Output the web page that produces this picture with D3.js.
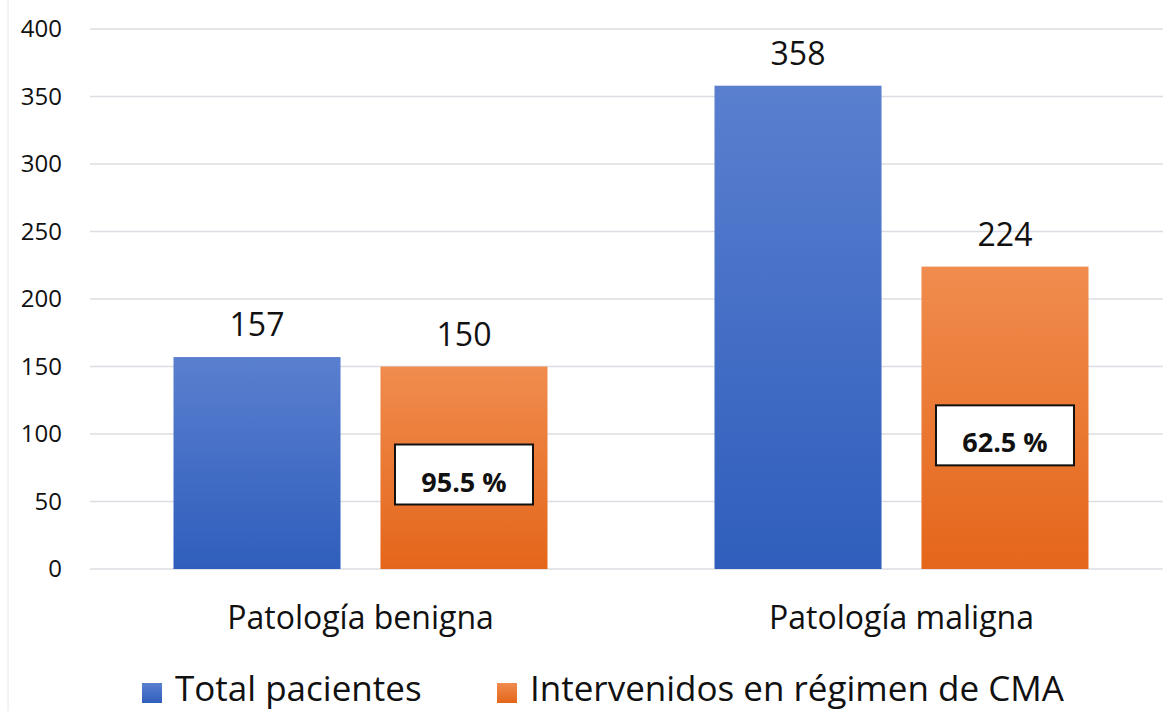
<!DOCTYPE html>
<html>
<head>
<meta charset="utf-8">
<script src="https://cdn.jsdelivr.net/npm/d3@7"></script>
<style>
  body { margin: 0; background: #fff; }
  svg { display: block; font-family: "Open Sans", sans-serif; }
</style>
</head>
<body>
<div id="chart"></div>
<script>
// data
const categories = ['Patología benigna', 'Patología maligna'];
const seriesNames = ['Total pacientes', 'Intervenidos en régimen de CMA'];
const totalPacientes = [157, 358];
const intervenidosCMA = [150, 224];
const percentLabels = ['95.5 %', '62.5 %'];
const yTicks = [0, 50, 100, 150, 200, 250, 300, 350, 400];

const W = 1163, H = 711;
const margin = { top: 29, right: 0, bottom: 142, left: 90 };
const width = W - margin.left - margin.right;
const height = H - margin.top - margin.bottom;

const svg = d3.select('#chart').append('svg')
    .attr('width', W)
    .attr('height', H);

const defs = svg.append('defs');
const grads = [['gBlue', '#5a7fcf', '#2f5ebc'], ['gOrange', '#f08c4e', '#e4661a']];
grads.forEach(g => {
    const lg = defs.append('linearGradient').attr('id', g[0])
        .attr('x1', 0).attr('y1', 0).attr('x2', 0).attr('y2', 1);
    lg.append('stop').attr('offset', '0%').attr('stop-color', g[1]);
    lg.append('stop').attr('offset', '100%').attr('stop-color', g[2]);
});
const fills = ['url(#gBlue)', 'url(#gOrange)'];
const legendFills = ['url(#gBlue)', 'url(#gOrange)'];

// left frame line
svg.append('line')
    .attr('x1', 8).attr('x2', 8).attr('y1', 0).attr('y2', H)
    .attr('stroke', '#e6e6e6').attr('stroke-width', 1);

const group = svg.append('g')
    .attr('transform', 'translate(' + margin.left + ',' + margin.top + ')');

const xScale = d3.scaleBand().domain(categories).range([0, width + 9]);
const xSub = d3.scaleBand().domain([0, 1]).range([0, 374]).paddingInner(0.193);
const yScale = d3.scaleLinear().domain([0, 400]).range([height, 0]);

// gridlines
group.append('g')
    .selectAll('line')
    .data(yTicks)
    .join('line')
    .attr('x1', 0).attr('x2', width)
    .attr('y1', d => yScale(d)).attr('y2', d => yScale(d))
    .attr('stroke', '#dcdde3').attr('stroke-width', 1.5);

// y axis
const yAxis = d3.axisLeft(yScale).tickValues(yTicks).tickSize(0).tickPadding(28);
const yAxisGroup = group.append('g').call(yAxis);
yAxisGroup.select('.domain').remove();
yAxisGroup.selectAll('text')
    .style('font-size', '24px')
    .style('font-family', '"Open Sans", sans-serif')
    .attr('fill', '#111');

// x axis labels
const xAxis = d3.axisBottom(xScale).tickSize(0).tickPadding(37);
const xAxisGroup = group.append('g')
    .attr('transform', 'translate(0,' + height + ')')
    .call(xAxis);
xAxisGroup.select('.domain').remove();
xAxisGroup.selectAll('text')
    .style('font-size', '32px')
    .style('font-family', '"Open Sans", sans-serif')
    .attr('fill', '#111');

const rows = categories.map((c, i) => ({ cat: c, values: [totalPacientes[i], intervenidosCMA[i]], pct: percentLabels[i] }));

const catG = group.selectAll('.cat')
    .data(rows)
    .join('g')
    .attr('class', 'cat')
    .attr('transform', d => 'translate(' + (xScale(d.cat) + xScale.bandwidth() / 2 - 187) + ',0)');

catG.selectAll('rect.bar')
    .data(d => d.values.map((v, j) => ({ v, j })))
    .join('rect')
    .attr('class', 'bar')
    .attr('x', d => xSub(d.j))
    .attr('width', xSub.bandwidth())
    .attr('y', d => yScale(d.v))
    .attr('height', d => height - yScale(d.v))
    .attr('fill', d => fills[d.j]);

catG.selectAll('text.val')
    .data(d => d.values.map((v, j) => ({ v, j })))
    .join('text')
    .attr('class', 'val')
    .attr('x', d => xSub(d.j) + xSub.bandwidth() / 2)
    .attr('y', d => yScale(d.v) - 21)
    .attr('text-anchor', 'middle')
    .style('font-size', '32px')
    .attr('fill', '#111')
    .text(d => d.v);

// percentage boxes inside the orange bars
const boxAnchor = [70, 99];
catG.each(function (d, i) {
    const g = d3.select(this);
    const cx = xSub(1) + xSub.bandwidth() / 2;
    const cy = yScale(boxAnchor[i]);
    g.append('rect')
        .attr('x', cx - 69).attr('y', cy - 30)
        .attr('width', 138).attr('height', 60)
        .attr('fill', '#fff').attr('stroke', '#111').attr('stroke-width', 2);
    g.append('text')
        .attr('x', cx).attr('y', cy + 17)
        .attr('text-anchor', 'middle')
        .style('font-size', '27px').style('font-weight', 'bold')
        .attr('fill', '#111')
        .text(d.pct);
});

// legend
const legendX = [142, 497];
const legend = svg.append('g');
seriesNames.forEach((name, i) => {
    legend.append('rect')
        .attr('x', legendX[i]).attr('y', 683)
        .attr('width', 20).attr('height', 20)
        .attr('fill', legendFills[i]);
    legend.append('text')
        .attr('x', legendX[i] + 33).attr('y', 701)
        .style('font-size', '35px')
        .attr('fill', '#111')
        .text(name);
});
</script>
</body>
</html>
